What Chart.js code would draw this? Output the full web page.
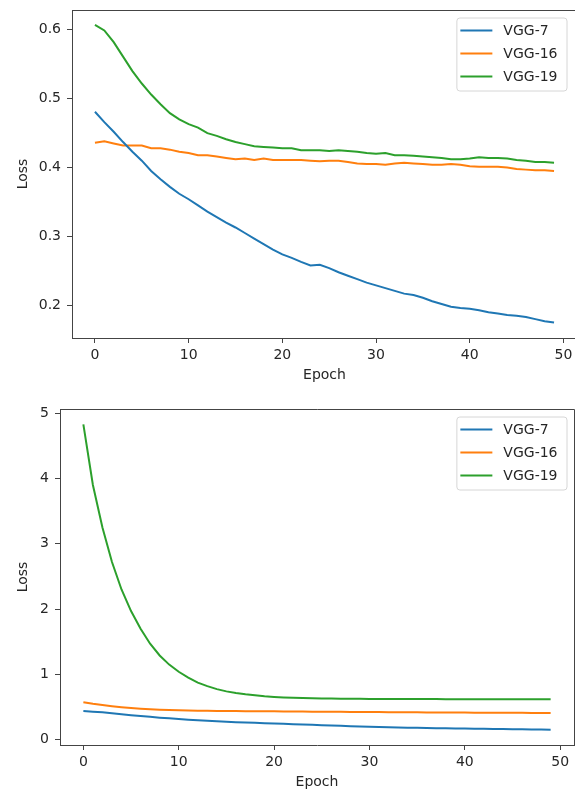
<!DOCTYPE html>
<html>
<head>
<meta charset="utf-8">
<script src="https://cdn.jsdelivr.net/npm/chart.js@4.4.0/dist/chart.umd.min.js"></script>
<style>
html, body { margin: 0; padding: 0; background: #fff; width: 575px; height: 793px; overflow: hidden; position: relative; }
canvas { position: absolute; left: 0; }
#trainChart { top: 0; }
#valChart { top: 395px; }
</style>
</head>
<body>
<canvas id="trainChart" width="579" height="395"></canvas>
<canvas id="valChart" width="575" height="398"></canvas>
<script>
// epochs shared by both plots
const epochs = [0, 1, 2, 3, 4, 5, 6, 7, 8, 9, 10, 11, 12, 13, 14, 15, 16, 17, 18, 19,
  20, 21, 22, 23, 24, 25, 26, 27, 28, 29, 30, 31, 32, 33, 34, 35, 36, 37, 38, 39,
  40, 41, 42, 43, 44, 45, 46, 47, 48, 49];
const seriesNames = ['VGG-7', 'VGG-16', 'VGG-19'];

// top plot
const topVgg7 = [0.481, 0.466, 0.452, 0.437, 0.423, 0.410, 0.395, 0.383, 0.372, 0.362,
  0.354, 0.345, 0.336, 0.328, 0.320, 0.313, 0.305, 0.297, 0.289, 0.281,
  0.274, 0.269, 0.263, 0.258, 0.259, 0.254, 0.248, 0.243, 0.238, 0.233,
  0.229, 0.225, 0.221, 0.217, 0.215, 0.211, 0.206, 0.202, 0.198, 0.196,
  0.195, 0.193, 0.190, 0.188, 0.186, 0.185, 0.183, 0.180, 0.177, 0.175];
const topVgg16 = [0.436, 0.438, 0.435, 0.432, 0.432, 0.432, 0.428, 0.428, 0.426, 0.423,
  0.421, 0.418, 0.418, 0.416, 0.414, 0.412, 0.413, 0.411, 0.413, 0.411,
  0.411, 0.411, 0.411, 0.410, 0.409, 0.410, 0.410, 0.408, 0.406, 0.405,
  0.405, 0.404, 0.406, 0.407, 0.406, 0.405, 0.404, 0.404, 0.405, 0.404,
  0.402, 0.401, 0.401, 0.401, 0.400, 0.398, 0.397, 0.396, 0.396, 0.395];
const topVgg19 = [0.607, 0.599, 0.582, 0.561, 0.540, 0.522, 0.506, 0.492, 0.479, 0.470,
  0.463, 0.458, 0.450, 0.446, 0.441, 0.437, 0.434, 0.431, 0.430, 0.429,
  0.428, 0.428, 0.425, 0.425, 0.425, 0.424, 0.425, 0.424, 0.423, 0.421,
  0.420, 0.421, 0.418, 0.418, 0.417, 0.416, 0.415, 0.414, 0.412, 0.412,
  0.413, 0.415, 0.414, 0.414, 0.413, 0.411, 0.410, 0.408, 0.408, 0.407];

// bottom plot
const botVgg7 = [0.440, 0.430, 0.420, 0.405, 0.390, 0.375, 0.362, 0.350, 0.338, 0.327,
  0.317, 0.307, 0.297, 0.289, 0.282, 0.275, 0.269, 0.263, 0.258, 0.253,
  0.248, 0.243, 0.238, 0.233, 0.228, 0.223, 0.218, 0.213, 0.208, 0.203,
  0.199, 0.195, 0.191, 0.188, 0.185, 0.182, 0.179, 0.177, 0.175, 0.173,
  0.171, 0.169, 0.167, 0.165, 0.163, 0.161, 0.159, 0.157, 0.155, 0.153];
const botVgg16 = [0.575, 0.550, 0.530, 0.512, 0.497, 0.485, 0.475, 0.467, 0.460, 0.455,
  0.451, 0.448, 0.445, 0.443, 0.441, 0.440, 0.438, 0.437, 0.436, 0.435,
  0.434, 0.433, 0.432, 0.431, 0.430, 0.429, 0.428, 0.427, 0.426, 0.425,
  0.424, 0.423, 0.422, 0.421, 0.420, 0.419, 0.418, 0.418, 0.417, 0.416,
  0.415, 0.414, 0.414, 0.413, 0.412, 0.412, 0.411, 0.410, 0.410, 0.409];
const botVgg19 = [4.83, 3.90, 3.25, 2.72, 2.30, 1.97, 1.70, 1.47, 1.29, 1.15,
  1.04, 0.950, 0.875, 0.820, 0.775, 0.740, 0.715, 0.695, 0.680, 0.665,
  0.655, 0.648, 0.642, 0.638, 0.635, 0.632, 0.630, 0.628, 0.627, 0.626,
  0.625, 0.624, 0.624, 0.623, 0.623, 0.622, 0.622, 0.622, 0.621, 0.621,
  0.621, 0.621, 0.620, 0.620, 0.620, 0.620, 0.620, 0.620, 0.620, 0.620];

const xTicks = [0, 10, 20, 30, 40, 50];
const topYTicks = [0.2, 0.3, 0.4, 0.5, 0.6];
const botYTicks = [0, 1, 2, 3, 4, 5];

const colors = ['#1f77b4', '#ff7f0e', '#2ca02c'];
const textColor = '#262626';
const spineColor = '#444';
const font = { family: 'DejaVu Sans', size: 14 };

// top and right spines
const boxPlugin = {
  id: 'box',
  afterDraw(chart) {
    const a = chart.chartArea, ctx = chart.ctx;
    ctx.save();
    ctx.strokeStyle = spineColor;
    ctx.lineWidth = 1;
    ctx.beginPath();
    ctx.moveTo(a.left, a.top + 0.5);
    ctx.lineTo(a.right + 0.5, a.top + 0.5);
    ctx.lineTo(a.right + 0.5, a.bottom);
    ctx.stroke();
    ctx.restore();
  }
};

// matplotlib-like legend in the upper right corner
const legendPlugin = {
  id: 'mplLegend',
  afterDraw(chart) {
    const a = chart.chartArea, ctx = chart.ctx;
    ctx.save();
    ctx.font = font.size + 'px ' + font.family;
    const sets = chart.data.datasets;
    const textW = Math.max(...sets.map(d => ctx.measureText(d.label).width));
    const rowH = 23;
    const w = 47 + textW + 9;
    const h = sets.length * rowH + 4;
    const x = Math.min(a.right, 574) - 7.5 - w;
    const y = a.top + 7.5;
    ctx.beginPath();
    ctx.roundRect(x + 0.5, y + 0.5, w, h, 3);
    ctx.fillStyle = 'rgba(255,255,255,0.8)';
    ctx.fill();
    ctx.strokeStyle = '#d6d6d6';
    ctx.lineWidth = 1;
    ctx.stroke();
    sets.forEach((d, i) => {
      const cy = y + 13 + i * rowH;
      ctx.strokeStyle = d.borderColor;
      ctx.lineWidth = 2;
      ctx.beginPath();
      ctx.moveTo(x + 4, cy);
      ctx.lineTo(x + 36, cy);
      ctx.stroke();
      ctx.fillStyle = textColor;
      ctx.textBaseline = 'middle';
      ctx.fillText(d.label, x + 47, cy + 1);
    });
    ctx.restore();
  }
};

function noPad(s) {
  s.paddingTop = 0;
  s.paddingBottom = 0;
  s.paddingLeft = 0;
  s.paddingRight = 0;
}

function makeChart(id, series, yTicks, yMin, yMax, yFmt, layout) {
  const ctx = document.getElementById(id).getContext('2d');
  return new Chart(ctx, {
    type: 'line',
    data: {
      datasets: series.map((s, i) => ({
        label: seriesNames[i],
        data: epochs.map((e, j) => ({ x: e, y: s[j] })),
        borderColor: colors[i],
        backgroundColor: colors[i],
        borderWidth: 2,
        pointRadius: 0,
        tension: 0,
        fill: false
      }))
    },
    options: {
      responsive: false,
      animation: false,
      devicePixelRatio: 1,
      layout: { padding: { left: 0, top: layout.top, right: layout.right, bottom: 0 } },
      plugins: { legend: { display: false }, tooltip: { enabled: false } },
      scales: {
        x: {
          type: 'linear',
          min: -2.45,
          max: 51.45,
          afterBuildTicks: s => { s.ticks = xTicks.map(v => ({ value: v })); },
          afterFit: s => { s.height = layout.xHeight; noPad(s); },
          ticks: { color: textColor, font: font, padding: 4, autoSkip: false, maxRotation: 0 },
          grid: { drawOnChartArea: false, tickLength: 5, tickColor: spineColor },
          border: { color: spineColor, width: 1 },
          title: { display: true, text: 'Epoch', color: textColor, font: font, padding: { top: 0, bottom: layout.titleBottom } }
        },
        y: {
          min: yMin,
          max: yMax,
          afterBuildTicks: s => { s.ticks = yTicks.map(v => ({ value: v })); },
          afterFit: s => { s.width = layout.yWidth; noPad(s); },
          ticks: { color: textColor, font: font, padding: 6, autoSkip: false, callback: yFmt },
          grid: { drawOnChartArea: false, tickLength: 5, tickColor: spineColor },
          border: { color: spineColor, width: 1 },
          title: { display: true, text: 'Loss', color: textColor, font: font, padding: { top: 15, bottom: 0 } }
        }
      }
    },
    plugins: [boxPlugin, legendPlugin]
  });
}

makeChart('trainChart', [topVgg7, topVgg16, topVgg19], topYTicks, 0.1526, 0.6287,
  v => v.toFixed(1), { top: 10, right: 2, xHeight: 57, yWidth: 72, titleBottom: 11 });
makeChart('valChart', [botVgg7, botVgg16, botVgg19], botYTicks, -0.081, 5.064,
  v => String(v), { top: 14, right: 1, xHeight: 48, yWidth: 60, titleBottom: 2 });
</script>
</body>
</html>
